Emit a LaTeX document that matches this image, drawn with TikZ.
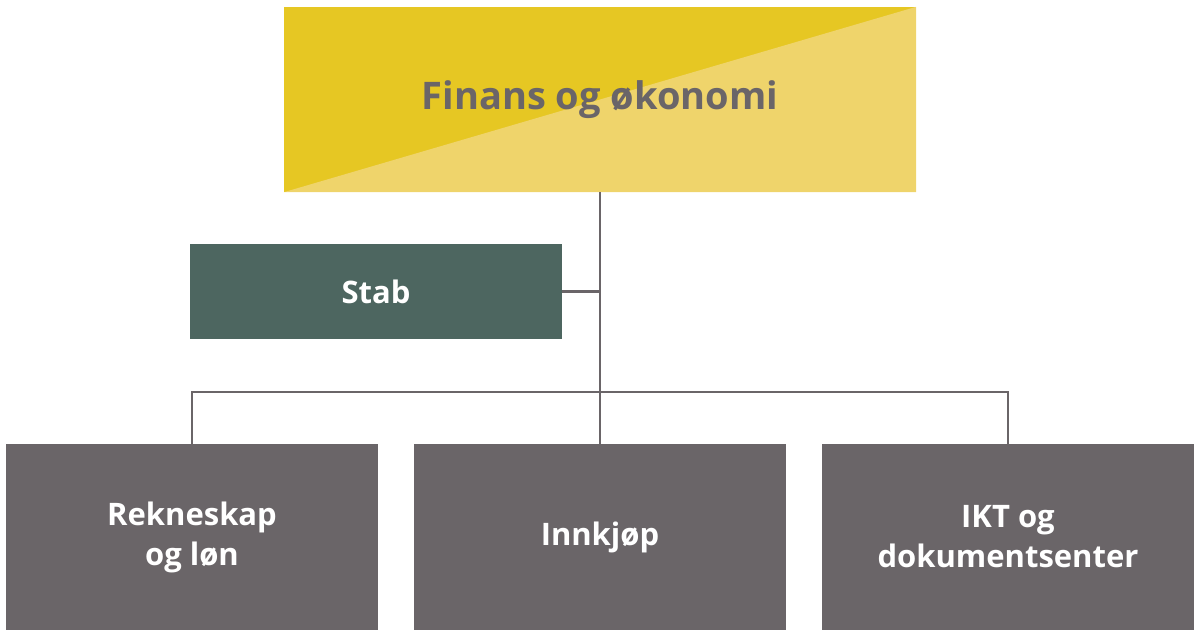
\documentclass[tikz,border=0pt]{standalone}
\usepackage{fontspec}
\setmainfont{Open Sans}
\usepackage{tikz}
\definecolor{gulmork}{HTML}{E6C723}
\definecolor{gullys}{HTML}{EFD46B}
\definecolor{stabgronn}{HTML}{4D6660}
\definecolor{gra}{HTML}{6A6568}
\tikzset{
    eining/.style={fill=gra, text=white, minimum width=372pt, minimum height=186pt,
        align=center, font=\fontsize{31}{40}\selectfont\bfseries, inner sep=0pt},
    link/.style={draw=gra, line width=2.5pt}
}
\begin{document}
\begin{tikzpicture}[x=1pt,y=-1pt]
        \useasboundingbox (0,0) rectangle (1200,637);
        \node[fill=gulmork, minimum width=632pt, minimum height=185pt, inner sep=0pt] (fin) at (600,99.5) {};
        \fill[gullys] (fin.south west) -- (fin.north east) -- (fin.south east) -- cycle;
        \node[text=gra, font=\fontsize{38}{44}\selectfont\bfseries] at (fin.center) {Finans og økonomi};
        \node[eining, fill=stabgronn, minimum height=95pt] (stab) at (376,291.5) {Stab};
        \node[eining] (rek) at (192,537) {Rekneskap\\og løn};
        \node[eining] (inn) at (600,537) {Innkjøp};
        \node[eining] (ikt) at (1008,537) {IKT og\\dokumentsenter};
        \coordinate (bus) at (600,392);
        \draw[link] (fin.south) -- (inn.north);
        \draw[link] (stab.east) -- (stab.east -| fin.south);
        \draw[link] (rek.north) |- (bus) -| (ikt.north);
    \end{tikzpicture}
\end{document}
